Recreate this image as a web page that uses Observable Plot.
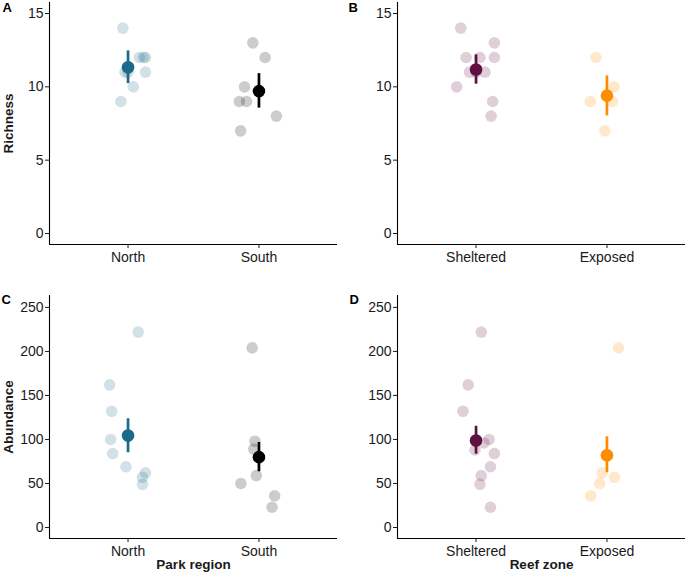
<!DOCTYPE html>
<html>
<head>
<meta charset="utf-8">
<script src="https://cdn.jsdelivr.net/npm/d3@7"></script>
<script src="https://cdn.jsdelivr.net/npm/@observablehq/plot@0.6"></script>
<style>
  body { margin: 0; background: #fff; }
  #wrap { position: relative; width: 685px; height: 575px; overflow: hidden; background: #fff;
          font-family: "Liberation Sans", Arial, Helvetica, sans-serif; }
  .panel { position: absolute; }
  .panel svg { overflow: visible; display: block; }
  g[aria-label="y-axis label"] text, g[aria-label="x-axis label"] text,
  g[aria-label="y-axis label"], g[aria-label="x-axis label"] { font-weight: bold; font-size: 13.5px; }
</style>
</head>
<body>
<div id="wrap">
  <div class="panel" id="pA" style="left:0px;top:0px"></div>
  <div class="panel" id="pB" style="left:340px;top:0px"></div>
  <div class="panel" id="pC" style="left:0px;top:280px"></div>
  <div class="panel" id="pD" style="left:340px;top:280px"></div>
</div>
<script>
// ---------- categories & colours ----------
const regions = ["North", "South"];
const zones = ["Sheltered", "Exposed"];
const regionColors = ["#1b6a89", "#000000"];
const zoneColors = ["#5f0f40", "#ff8c00"];

// ---------- site-level values by park region ----------
const regionSite = ["North","North","North","North","North","North","North","North","North",
                    "South","South","South","South","South","South","South"];
const regionRichness = [14,12,12,12,11,11,11,10,9, 13,12,10,9,9,8,7];
const regionRichJitter = [-0.04,0.086,0.117,0.133,-0.023,0.0,0.133,0.04,-0.055,
                          -0.047,0.047,-0.11,-0.15,-0.095,0.133,-0.14];
const regionAbundance = [222,162,132,100,84,69,62,57,49, 204,98,89,59,50,36,23];
const regionAbundJitter = [0.078,-0.14,-0.125,-0.133,-0.117,-0.016,0.133,0.11,0.11,
                           -0.052,-0.031,-0.039,-0.02,-0.138,0.12,0.1];

// ---------- site-level values by reef zone ----------
const zoneSite = ["Sheltered","Sheltered","Sheltered","Sheltered","Sheltered","Sheltered",
                  "Sheltered","Sheltered","Sheltered","Sheltered","Sheltered",
                  "Exposed","Exposed","Exposed","Exposed","Exposed"];
const zoneRichness = [14,13,12,12,12,11,11,11,10,9,8, 12,10,9,9,7];
const zoneRichJitter = [-0.117,0.14,-0.076,0.029,0.14,-0.05,0.0,0.068,-0.148,0.127,0.115,
                        -0.084,0.055,-0.127,0.041,-0.016];
const zoneAbundance = [222,162,132,100,96,88,84,69,59,49,23, 204,62,57,50,36];
const zoneAbundJitter = [0.04,-0.06,-0.1,0.1,0.06,-0.008,0.14,0.11,0.04,0.03,0.11,
                         0.088,-0.037,0.057,-0.055,-0.125];

// ---------- group means and intervals ----------
const regionRichMean = [11.33, 9.71];
const regionRichLow  = [10.22, 8.55];
const regionRichHigh = [12.45, 10.9];
const regionAbundMean = [104.4, 79.9];
const regionAbundLow  = [84.9, 63.3];
const regionAbundHigh = [123.5, 96.6];
const zoneRichMean = [11.18, 9.4];
const zoneRichLow  = [10.18, 8.02];
const zoneRichHigh = [12.18, 10.75];
const zoneAbundMean = [98.8, 82.1];
const zoneAbundLow  = [83.3, 62.2];
const zoneAbundHigh = [115, 103];

// ---------- axes ----------
const richTicks = [0, 5, 10, 15];
const abundTicks = [0, 50, 100, 150, 200, 250];
const richDomain = [-0.75, 15.75];
const abundDomain = [-12.5, 263.5];

function panel(opts) {
  const {el, cats, colors, groups, values, jitter, mean, low, high, yDomain, yTicks,
         yLabel, xLabel, letter, width, height, ml, mr, mt, mb, letterDx, letterDy} = opts;
  const pts = values.map((v, i) => ({g: groups[i], v, j: jitter[i]}));
  const summ = cats.map((c, i) => ({g: c, m: mean[i], lo: low[i], hi: high[i], col: colors[i]}));
  const xi = g => cats.indexOf(g) + 1;
  const col = g => colors[cats.indexOf(g)];
  const chart = Plot.plot({
    width, height,
    marginLeft: ml, marginRight: mr, marginTop: mt, marginBottom: mb,
    style: {fontFamily: '"Liberation Sans", Arial, Helvetica, sans-serif', fontSize: "14px",
            color: "#1a1a1a", background: "white", overflow: "visible"},
    x: {domain: [0.4, 2.6]},
    y: {domain: yDomain},
    color: {type: "identity"},
    marks: [
      Plot.dot(pts, {x: d => xi(d.g) + d.j, y: "v", r: 5.8, fill: d => col(d.g), fillOpacity: 0.2, stroke: null}),
      Plot.ruleX(summ, {x: d => xi(d.g), y1: "lo", y2: "hi", stroke: "col", strokeWidth: 2.7}),
      Plot.dot(summ, {x: d => xi(d.g), y: "m", r: 6.3, fill: "col", stroke: null}),
      Plot.ruleY([yDomain[0]], {stroke: "black", strokeWidth: 1.1}),
      Plot.ruleX([0.4], {stroke: "black", strokeWidth: 1.1}),
      Plot.axisX({ticks: [1, 2], tickFormat: i => cats[i - 1], tickSize: 4, tickPadding: 4,
                  label: xLabel, labelAnchor: "center", labelArrow: "none", labelOffset: mb - 7}),
      Plot.axisY({ticks: yTicks, tickSize: 4, tickPadding: 2, tickFormat: d => String(d),
                  label: yLabel, labelAnchor: "center", labelArrow: "none", labelOffset: ml - 3.4}),
      Plot.text([letter], {frameAnchor: "top-left", dx: letterDx, dy: letterDy, textAnchor: "start",
                  lineAnchor: "top", fontWeight: "bold", fontSize: 13, fill: "black"})
    ]
  });
  document.getElementById(el).appendChild(chart);
}

panel({el: "pA", cats: regions, colors: regionColors, groups: regionSite, values: regionRichness,
       jitter: regionRichJitter, mean: regionRichMean, low: regionRichLow, high: regionRichHigh,
       yDomain: richDomain, yTicks: richTicks, yLabel: "Richness", xLabel: null, letter: "A",
       width: 340, height: 275, ml: 49, mr: 3, mt: 2, mb: 31, letterDx: -47, letterDy: -0.2});
panel({el: "pB", cats: zones, colors: zoneColors, groups: zoneSite, values: zoneRichness,
       jitter: zoneRichJitter, mean: zoneRichMean, low: zoneRichLow, high: zoneRichHigh,
       yDomain: richDomain, yTicks: richTicks, yLabel: null, xLabel: null, letter: "B",
       width: 345, height: 275, ml: 57, mr: 0, mt: 2, mb: 31, letterDx: -49, letterDy: -0.2});
panel({el: "pC", cats: regions, colors: regionColors, groups: regionSite, values: regionAbundance,
       jitter: regionAbundJitter, mean: regionAbundMean, low: regionAbundLow, high: regionAbundHigh,
       yDomain: abundDomain, yTicks: abundTicks, yLabel: "Abundance", xLabel: "Park region", letter: "C",
       width: 340, height: 295, ml: 49, mr: 3, mt: 15, mb: 37, letterDx: -48, letterDy: -0.9});
panel({el: "pD", cats: zones, colors: zoneColors, groups: zoneSite, values: zoneAbundance,
       jitter: zoneAbundJitter, mean: zoneAbundMean, low: zoneAbundLow, high: zoneAbundHigh,
       yDomain: abundDomain, yTicks: abundTicks, yLabel: null, xLabel: "Reef zone", letter: "D",
       width: 345, height: 295, ml: 57, mr: 0, mt: 15, mb: 37, letterDx: -48, letterDy: -0.9});
</script>
</body>
</html>
